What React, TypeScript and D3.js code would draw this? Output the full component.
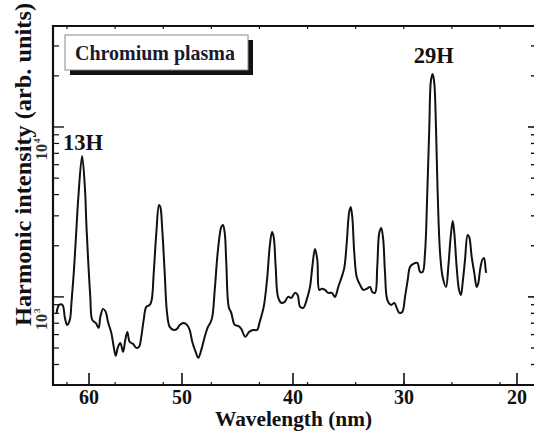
import React from 'react';
import * as d3 from 'd3';

// ---- data ----
const wavelengthNm = [
  63.52, 63.23, 62.87, 62.61, 62.37, 62.08, 61.9, 61.65, 61.37, 61.15, 60.75, 60.43, 60.29, 60.11, 59.86,
  59.65, 59.28, 58.96, 58.78, 58.49, 58.2, 57.96, 57.6, 57.34, 57.13, 56.88, 56.63, 56.34, 56.1, 55.88,
  55.62, 55.27, 54.91, 54.62, 54.38, 54.12, 53.84, 53.47, 53.26, 53.04, 52.76, 52.47, 52.33, 52.12, 51.86,
  51.61, 51.32, 50.89, 50.54, 50.25, 49.85, 49.55, 49.31, 49.07, 48.77, 48.53, 48.26, 47.95, 47.66, 47.45,
  47.27, 47.05, 46.76, 46.46, 46.31, 46.15, 46.01, 45.79, 45.56, 45.25, 44.95, 44.66, 44.3, 43.96, 43.6,
  43.24, 43.0, 42.64, 42.34, 42.1, 41.89, 41.74, 41.56, 41.35, 41.05, 40.75, 40.45, 40.15, 39.82, 39.58,
  39.37, 39.07, 38.77, 38.47, 38.26, 38.02, 37.81, 37.63, 37.41, 37.12, 36.82, 36.51, 36.22, 35.92, 35.61,
  35.38, 35.16, 34.95, 34.8, 34.66, 34.48, 34.26, 33.96, 33.67, 33.36, 33.06, 32.86, 32.61, 32.41, 32.23,
  32.05, 31.87, 31.71, 31.5, 31.17, 30.87, 30.66, 30.42, 30.15, 29.91, 29.67, 29.47, 29.18, 28.82, 28.58,
  28.35, 28.14, 27.94, 27.76, 27.61, 27.46, 27.32, 27.17, 27.02, 26.81, 26.58, 26.28, 26.08, 25.87, 25.69,
  25.55, 25.34, 25.13, 24.96, 24.81, 24.6, 24.37, 24.23, 24.01, 23.78, 23.57, 23.42, 23.27, 23.07, 22.92,
  22.77, 22.72,
];
const intensityArb = [
  802, 897, 897, 752, 684, 732, 922, 1384, 2478, 3890, 6750, 4260, 2725, 1720, 1000,
  732, 703, 657, 763, 850, 816, 713, 614, 508, 450, 508, 536, 475, 558, 622,
  543, 529, 501, 508, 582, 732, 873, 897, 960, 1384, 2380, 3475, 3384, 2478, 1384,
  805, 666, 639, 648, 684, 703, 684, 639, 543, 475, 438, 488, 582, 666, 703,
  763, 1100, 1890, 2580, 2652, 2380, 1585, 873, 805, 684, 675, 648, 582, 622, 639,
  639, 713, 873, 1259, 1968, 2412, 2254, 1501, 1000, 922, 935, 1000, 987, 1056, 1027,
  877, 862, 960, 1145, 1501, 1916, 1651, 1100, 1115, 1100, 1056, 1056, 1000, 1145, 1311,
  1481, 2078, 3120, 3384, 2955, 1815, 1311, 1177, 1100, 1115, 1145, 1070, 1056, 1501, 2380,
  2546, 2164, 1384, 960, 897, 922, 862, 805, 816, 1000, 1259, 1501, 1564, 1585, 1403,
  1403, 1815, 4090, 10000, 18900, 20500, 18150, 10000, 4090, 1815, 1311, 1145, 1501, 2254, 2800,
  2380, 1501, 1100, 1027, 1209, 1651, 2316, 2254, 1720, 1384, 1145, 1209, 1441, 1651, 1696,
  1441, 1384,
];
const xTickLabels = [60, 50, 40, 30, 20];
const yDecadeTicks = [1000, 10000];
const yDecadeExponents = ['3', '4'];
const harmonicNames = ['13H', '29H'];
const harmonicWavelength = [60.75, 27.46];
const harmonicIntensity = [6750, 20500];
const legendText = 'Chromium plasma';
const xTitle = 'Wavelength (nm)';
const yTitle = 'Harmonic intensity (arb. units)';

const W = 534;
const H = 435;
const left = 53;
const right = 535;
const top = 26;
const bottom = 385;
const FONT = '"Liberation Serif", "Times New Roman", serif';
const INK = '#111';

export default function App() {
  // the printed wavelength axis is not evenly spaced; a piecewise-linear scale follows it
  const x = d3
    .scaleLinear()
    .domain([63.9, 60, 50, 40, 30, 20, 18.6])
    .range([left, 89, 182, 293, 404, 517, 533]);
  const y = d3.scaleLog().domain([303, 39300]).range([bottom, top]);
  // evenly spaced frame ticks on the top and bottom axes
  const frame = d3.scaleLinear().domain([0, 9]).range([67, 500]);
  const frameTicks = d3.range(0, 10);

  const pts = wavelengthNm.map((w, i) => [w, intensityArb[i]] as [number, number]);
  const line = d3
    .line<[number, number]>()
    .x((d) => x(d[0]))
    .y((d) => y(d[1]))
    .curve(d3.curveCatmullRom.alpha(0.5));

  const yMinor = y.ticks().filter((t) => !yDecadeTicks.includes(t));

  return (
    <svg
      width={W}
      height={H}
      style={{ position: 'absolute', left: 0, top: 0, background: '#fff' }}
      fontFamily={FONT}
    >
      <rect x={0} y={0} width={W} height={H} fill="#fff" />
      <defs>
        <clipPath id="plot">
          <rect x={left} y={top} width={right - left} height={bottom - top} />
        </clipPath>
      </defs>

      {/* curve */}
      <path
        d={line(pts) || ''}
        fill="none"
        stroke={INK}
        strokeWidth={2}
        strokeLinejoin="round"
        clipPath="url(#plot)"
      />

      {/* frame */}
      <line x1={left} x2={W + 2} y1={top} y2={top} stroke={INK} strokeWidth={2} />
      <line x1={left} x2={W + 2} y1={bottom} y2={bottom} stroke={INK} strokeWidth={2} />
      <line x1={left} x2={left} y1={top - 1} y2={bottom + 1} stroke={INK} strokeWidth={2.2} />

      {/* top / bottom frame ticks */}
      {frameTicks.map((t) => (
        <g key={'f' + t}>
          <line x1={frame(t)} x2={frame(t)} y1={top} y2={top + 3} stroke={INK} strokeWidth={1.2} />
          <line x1={frame(t)} x2={frame(t)} y1={bottom} y2={bottom - 3} stroke={INK} strokeWidth={1.2} />
        </g>
      ))}

      {/* bottom major ticks + labels */}
      {xTickLabels.map((t) => (
        <g key={'x' + t}>
          <line x1={x(t)} x2={x(t)} y1={bottom} y2={bottom - 12} stroke={INK} strokeWidth={1.6} />
          <text
            x={x(t)}
            y={404}
            textAnchor="middle"
            fontSize={20}
            fontWeight="bold"
            fill={INK}
          >
            {t}
          </text>
        </g>
      ))}

      {/* left / right ticks */}
      {yMinor.map((t) => (
        <g key={'ym' + t}>
          <line x1={left} x2={left + 6} y1={y(t)} y2={y(t)} stroke={INK} strokeWidth={1.2} />
          <line x1={531} x2={534} y1={y(t)} y2={y(t)} stroke={INK} strokeWidth={1.4} />
        </g>
      ))}
      {yDecadeTicks.map((t, i) => (
        <g key={'yd' + t}>
          <line x1={left} x2={left + 11} y1={y(t)} y2={y(t)} stroke={INK} strokeWidth={1.4} />
          <line x1={528} x2={534} y1={y(t)} y2={y(t)} stroke={INK} strokeWidth={1.6} />
          <text
            transform={`translate(47,${y(t) + 3}) rotate(-90)`}
            textAnchor="start"
            fontSize={16}
            fontWeight="bold"
            fill={INK}
            opacity={0.85}
          >
            <tspan x={-30}>10</tspan>
            <tspan dx={1} dy={-7} fontSize={9}>
              {yDecadeExponents[i]}
            </tspan>
          </text>
        </g>
      ))}

      {/* axis titles */}
      <text
        x={293.5}
        y={426}
        textAnchor="middle"
        fontSize={20}
        fontWeight="bold"
        fill={INK}
        textLength={157}
        lengthAdjust="spacingAndGlyphs"
      >
        {xTitle}
      </text>
      <text
        transform={`translate(31,164.5) rotate(-90)`}
        textAnchor="middle"
        fontSize={24}
        fontWeight="bold"
        fill={INK}
        textLength={323}
        lengthAdjust="spacingAndGlyphs"
      >
        {yTitle}
      </text>

      {/* legend box */}
      <rect x={70} y={40} width={183} height={35} fill={INK} />
      <rect x={65} y={35} width={183} height={35} fill="#fff" stroke="#888" strokeWidth={1} />
      <text
        x={75}
        y={60}
        fontSize={22}
        fontWeight="bold"
        fill="#1a1a2e"
        textLength={160}
        lengthAdjust="spacingAndGlyphs"
      >
        {legendText}
      </text>

      {/* harmonic labels */}
      {harmonicNames.map((n, i) => (
        <text
          key={n}
          x={x(harmonicWavelength[i]) + 1}
          y={y(harmonicIntensity[i]) - (i === 0 ? 6 : 11)}
          textAnchor="middle"
          fontSize={23}
          fontWeight="bold"
          fill={INK}
          textLength={40}
          lengthAdjust="spacingAndGlyphs"
        >
          {n}
        </text>
      ))}
    </svg>
  );
}
